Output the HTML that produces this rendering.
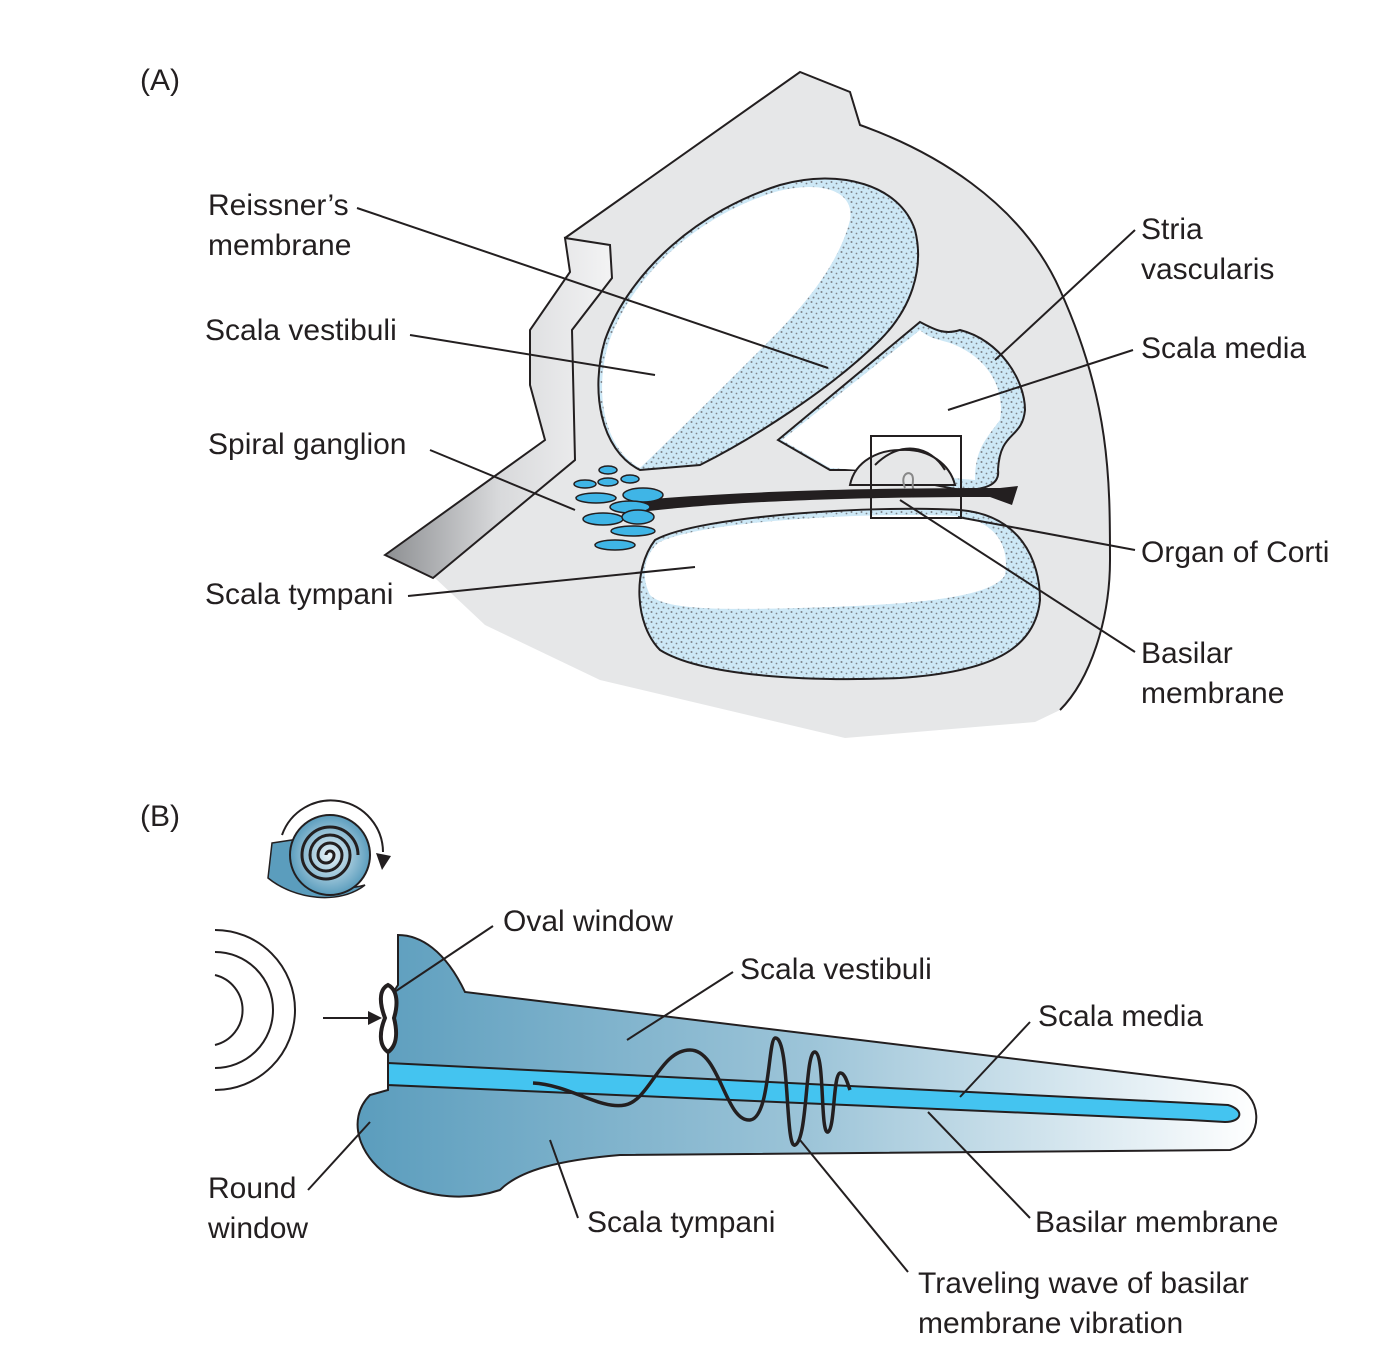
<!DOCTYPE html>
<html><head><meta charset="utf-8"><style>
html,body{margin:0;padding:0;background:#fff}
svg{display:block}
text{font-family:"Liberation Sans",sans-serif;font-size:30px;fill:#231f20}
</style></head><body>
<svg width="1400" height="1350" viewBox="0 0 1400 1350">
<defs>
<pattern id="stip" width="10" height="10" patternUnits="userSpaceOnUse">
<rect width="10" height="10" fill="#cde8f6"/>
<circle cx="1.5" cy="2" r="1" fill="#7d8389"/><circle cx="6.5" cy="3.5" r="0.9" fill="#7d8389"/>
<circle cx="3.5" cy="7.5" r="1" fill="#7d8389"/><circle cx="8.5" cy="8.5" r="0.9" fill="#7d8389"/>
</pattern>
<linearGradient id="bone" x1="0" y1="0" x2="1" y2="0">
<stop offset="0" stop-color="#8d8f92"/><stop offset="0.5" stop-color="#d8d9db"/><stop offset="1" stop-color="#f3f3f4"/></linearGradient>
<linearGradient id="bg" x1="0" y1="0" x2="1" y2="0">
<stop offset="0" stop-color="#5b9dbd"/><stop offset="0.5" stop-color="#9cc4d8"/><stop offset="1" stop-color="#ffffff"/></linearGradient>
<radialGradient id="snail" cx="0.5" cy="0.5" r="0.5"><stop offset="0" stop-color="#e8f3f9"/><stop offset="1" stop-color="#5b9dbd"/></radialGradient>
</defs>

<g>
<text x="140" y="90">(A)</text>
<path d="M385,555 L545,440 L530,385 L530,330 L570,272 L565,238 L800,72 L850,92 L860,125 C930,150 1020,200 1060,290 C1110,400 1110,480 1110,560 C1110,620 1090,680 1060,710 L1035,722 L845,738 L600,680 L485,625 L435,578 Z" fill="#e6e7e8" stroke="none"/>
<path d="M565,238 L800,72 L850,92 L860,125 C930,150 1020,200 1060,290 C1110,400 1110,480 1110,560 C1110,620 1090,680 1060,710" fill="none" stroke="#231f20" stroke-width="2"/>
<path d="M385,555 L545,440 L530,385 L530,330 L570,272 L565,238 L610,245 L612,278 L572,330 L575,460 L433,578 Z" fill="url(#bone)" stroke="#231f20" stroke-width="2"/>
<path d="M640,470 C600,450 590,390 605,340 C630,270 700,210 780,185 C840,168 900,185 915,230 C925,270 910,310 880,340 C830,390 750,440 700,465 Z" fill="url(#stip)" stroke="#231f20" stroke-width="2"/>
<path d="M640,468 C603,448 594,390 609,342 C633,273 700,215 775,192 C820,180 855,190 850,220 C840,260 810,300 770,340 C730,380 680,430 640,468 Z" fill="#fff"/>
<path d="M778,440 L920,322 C935,330 945,335 960,330 C1000,340 1025,380 1025,410 C1022,440 1000,430 998,470 C1000,485 985,490 960,490 L860,470 L830,470 Z" fill="url(#stip)" stroke="#231f20" stroke-width="2"/>
<path d="M782,440 L920,330 C930,340 945,340 955,345 C990,360 1005,390 1000,420 C985,440 975,450 975,480 L860,470 L830,468 Z" fill="#fff"/>
<path d="M655,540 C700,515 880,505 960,510 C1020,515 1040,560 1040,600 C1035,650 990,672 900,678 C800,682 700,675 660,650 C635,625 632,570 655,540 Z" fill="url(#stip)" stroke="#231f20" stroke-width="2"/>
<path d="M658,543 C700,520 880,512 955,516 C995,520 1010,545 1005,575 C990,600 900,605 800,608 C720,610 665,610 650,595 C640,575 645,555 658,543 Z" fill="#fff"/>
<path d="M850,485 C855,460 880,450 900,450 C930,448 950,465 955,485 Z" fill="#e6e7e8" stroke="#231f20" stroke-width="2"/>
<path d="M875,465 C900,440 930,445 945,470" fill="none" stroke="#231f20" stroke-width="2"/>
<path d="M905,488 C900,475 908,470 912,475 C915,480 910,488 915,490" fill="none" stroke="#888" stroke-width="2"/>
<path d="M640,500 C700,495 800,488 1000,488 L1018,486 L1012,505 L990,497 C800,497 700,505 640,512 Z" fill="#231f20"/>
<g fill="#3fb5e6" stroke="#231f20" stroke-width="1.5">
<ellipse cx="608" cy="470" rx="9" ry="4"/><ellipse cx="585" cy="484" rx="11" ry="4"/><ellipse cx="608" cy="482" rx="10" ry="4"/><ellipse cx="630" cy="479" rx="9" ry="4"/>
<ellipse cx="643" cy="495" rx="20" ry="7"/><ellipse cx="596" cy="498" rx="20" ry="5"/><ellipse cx="630" cy="507" rx="20" ry="6"/>
<ellipse cx="603" cy="519" rx="20" ry="6"/><ellipse cx="638" cy="517" rx="16" ry="7"/><ellipse cx="633" cy="531" rx="22" ry="5"/><ellipse cx="615" cy="545" rx="20" ry="5"/>
</g>
<rect x="871" y="436" width="90" height="82" fill="none" stroke="#231f20" stroke-width="2"/>
<g stroke="#231f20" stroke-width="2" fill="none">
<path d="M357,208 L828,368"/><path d="M410,335 L655,375"/><path d="M430,450 L575,510"/><path d="M408,596 L695,567"/>
<path d="M1135,230 L995,360"/><path d="M1133,350 L948,410"/><path d="M1135,550 L958,517"/><path d="M1135,652 L900,500"/>
</g>
<text x="208" y="215">Reissner’s</text><text x="208" y="255">membrane</text>
<text x="205" y="340">Scala vestibuli</text>
<text x="208" y="454">Spiral ganglion</text>
<text x="205" y="604">Scala tympani</text>
<text x="1141" y="239">Stria</text><text x="1141" y="279">vascularis</text>
<text x="1141" y="358">Scala media</text>
<text x="1141" y="562">Organ of Corti</text>
<text x="1141" y="663">Basilar</text><text x="1141" y="703">membrane</text>
</g>

<g>
<text x="140" y="826">(B)</text>
<g>
<path d="M272,843 L292,840 C300,875 330,895 365,885 C340,905 295,900 268,878 Z" fill="#5b9dbd" stroke="#231f20" stroke-width="1.5"/>
<circle cx="330" cy="855" r="40" fill="url(#snail)" stroke="#231f20" stroke-width="2"/>
<path d="M326,855 A4,4 0 0 1 334,855 A8,8 0 0 1 318,855 A12,12 0 0 1 342,855 A16,16 0 0 1 310,855 A20,20 0 0 1 350,855 A24,24 0 0 1 302,855 A28,28 0 0 1 358,855" fill="none" stroke="#231f20" stroke-width="3"/>
<path d="M282,835 A52,52 0 0 1 383,852" fill="none" stroke="#231f20" stroke-width="2"/>
<path d="M376,853 L391,856 L382,870 Z" fill="#231f20"/>
</g>
<g fill="none" stroke="#231f20" stroke-width="2">
<path d="M215,930 A80,80 0 0,1 215,1090"/><path d="M215,952 A58,58 0 0,1 215,1068"/><path d="M215,975 A36,36 0 0,1 215,1045"/>
</g>
<path d="M323,1018 L368,1018" stroke="#231f20" stroke-width="2"/><path d="M368,1011 L382,1018 L368,1025 Z" fill="#231f20"/>
<path d="M398,935 C420,935 445,950 465,992 L1230,1085 C1262,1090 1268,1140 1230,1150 L620,1155 C560,1160 520,1170 500,1190 C470,1200 430,1200 395,1180 C360,1160 345,1120 370,1095 L388,1090 L388,1000 L398,985 Z" fill="url(#bg)" stroke="#231f20" stroke-width="2"/>
<path d="M388,1063 L1190,1103 L1228,1105 C1245,1110 1242,1122 1225,1122 L1190,1120 L388,1085 Z" fill="#44c4f0" stroke="#231f20" stroke-width="2"/>
<path d="M388,985 C378,990 380,1005 385,1018 C380,1030 378,1045 388,1052 C398,1045 397,1030 394,1018 C398,1005 398,990 388,985 Z" fill="#fff" stroke="#231f20" stroke-width="4"/>
<path d="M533,1083 C570,1085 600,1110 625,1105 C650,1100 660,1050 690,1050 C720,1050 725,1122 750,1120 C770,1118 768,1040 775,1038 C790,1036 785,1150 795,1145 C808,1140 805,1050 815,1052 C825,1054 820,1135 828,1132 C835,1128 833,1075 840,1073 C845,1072 848,1085 850,1090" fill="none" stroke="#231f20" stroke-width="3.5"/>
<g stroke="#231f20" stroke-width="2" fill="none">
<path d="M493,926 L393,993"/><path d="M733,972 L627,1040"/><path d="M1030,1022 L960,1097"/>
<path d="M308,1190 L370,1122"/><path d="M578,1218 L550,1140"/><path d="M1030,1218 L928,1112"/><path d="M908,1272 L800,1140"/>
</g>
<text x="503" y="931">Oval window</text>
<text x="740" y="979">Scala vestibuli</text>
<text x="1038" y="1026">Scala media</text>
<text x="208" y="1198">Round</text><text x="208" y="1238">window</text>
<text x="587" y="1232">Scala tympani</text>
<text x="1035" y="1232">Basilar membrane</text>
<text x="918" y="1293">Traveling wave of basilar</text><text x="918" y="1333">membrane vibration</text>
</g>
</svg>
</body></html>
